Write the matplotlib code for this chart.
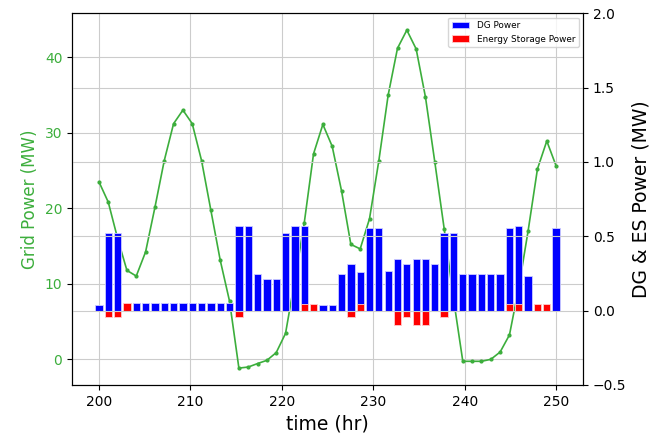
import numpy as np
import matplotlib.pyplot as plt

# time axis: 50 samples spread over 200..250 hr
t = np.linspace(200, 250, 50)

grid_power = [23.5, 20.8, 16.0, 11.75, 11.0, 14.2, 20.1, 26.3, 31.2, 33.0,
              31.2, 26.3, 19.7, 13.1, 7.66, -1.2, -1.06, -0.6, -0.17, 0.85,
              3.4, 10.5, 18.0, 27.2, 31.1, 28.2, 22.3, 15.2, 14.6, 18.6,
              26.3, 35.0, 41.2, 43.6, 41.1, 34.7, 26.1, 17.3, 8.0, -0.3,
              -0.3, -0.3, -0.04, 0.93, 3.2, 9.5, 17.0, 25.2, 28.9, 25.6]

dg_power = [0.038, 0.525, 0.525, 0.0, 0.049, 0.049, 0.049, 0.049, 0.049, 0.049,
            0.049, 0.049, 0.049, 0.049, 0.049, 0.57, 0.57, 0.248, 0.214, 0.214,
            0.525, 0.57, 0.57, 0.0, 0.037, 0.037, 0.248, 0.315, 0.263, 0.559,
            0.559, 0.265, 0.345, 0.315, 0.345, 0.345, 0.315, 0.525, 0.525, 0.248,
            0.248, 0.248, 0.248, 0.248, 0.559, 0.57, 0.23, 0.0, 0.0, 0.559]

es_power = [0.0, -0.045, -0.045, 0.049, 0.0, 0.0, 0.0, 0.0, 0.0, 0.0,
            0.0, 0.0, 0.0, 0.0, 0.0, -0.045, 0.0, 0.0, 0.0, 0.0,
            0.0, 0.0, 0.047, 0.047, 0.0, 0.0, 0.0, -0.045, 0.047, 0.0,
            0.0, 0.0, -0.095, -0.043, -0.095, -0.095, 0.0, -0.045, 0.0, 0.0,
            0.0, 0.0, 0.0, 0.0, 0.047, 0.047, 0.0, 0.047, 0.047, 0.0]

green = '#3cae3c'
gridcol = '#cccccc'

fig = plt.figure(figsize=(6.61, 4.41), dpi=100)
ax1 = fig.add_axes([0.109, 0.127, 0.773, 0.843])
ax2 = ax1.twinx()

ax1.plot(t, grid_power, color=green, marker='.', ms=4, lw=1.2)
ax1.set_ylabel('Grid Power (MW)', color=green, fontsize=12)
ax1.tick_params(axis='y', labelcolor=green)
ax1.set_xlabel('time (hr)', fontsize=13.5)
ax1.grid(True, color=gridcol)

ax2.bar(t, dg_power, color='blue', edgecolor='#ccccff', lw=0.6, label='DG Power')
ax2.bar(t, es_power, color='red', edgecolor='#ffcccc', lw=0.6,
        label='Energy Storage Power')
ax2.set_ylim(-0.5, 2.0)
ax2.set_ylabel('DG & ES Power (MW)', fontsize=13.5)
ax2.grid(True, color=gridcol)
ax2.legend(loc='upper right', fontsize=6.4)

fig.savefig('out.png', dpi=100)
